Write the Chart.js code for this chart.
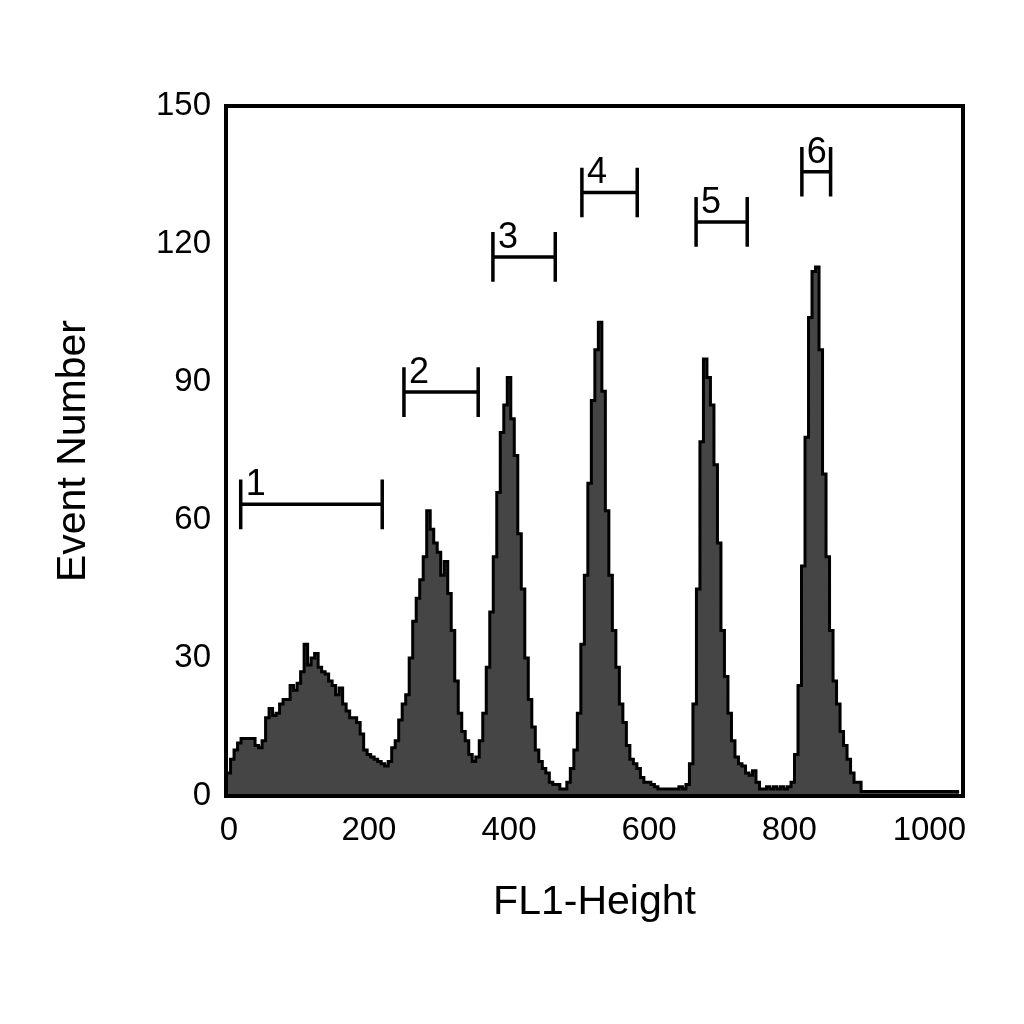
<!DOCTYPE html>
<html lang="en">
<head>
<meta charset="UTF-8">
<title>FL1-Height histogram</title>
<script src="https://cdn.jsdelivr.net/npm/chart.js@4"></script>
<style>
  html, body { margin: 0; padding: 0; background: #fff; }
  canvas { display: block; }
</style>
</head>
<body>
<canvas id="histo" width="1024" height="1024"></canvas>
<script>
// events per 5-channel bin (bins centred on 0, 5, 10 ...)
const BIN = 5;
const counts = [
  5, 8, 10, 11.5, 12.5, 12.5, 12.5, 12.5, 11, 10.5,      // 0-45
  12, 17, 19, 17.5, 18, 20, 21, 21, 24, 23,               // 50-95
  24.5, 27, 33, 28.5, 30, 31, 28, 27, 26.5, 25,           // 100-145
  24, 22, 23.5, 20, 18.5, 17, 17, 16, 13.5, 10,           // 150-195
  9, 8.5, 8, 7.5, 7, 6.5, 7.5, 10.5, 12, 16.5,            // 200-245
  20, 22, 30, 38, 43, 47, 52, 62, 58, 55,                 // 250-295
  53, 48, 51, 44, 36, 25, 18, 14, 12, 9,                  // 300-345
  7.5, 8.5, 12, 18, 28, 40, 52, 66, 79, 85,               // 350-395
  91, 82, 74, 57, 45, 30, 21, 15, 10, 7.5,                // 400-445
  6, 5, 3, 2.5, 2.5, 1.5, 1.5, 3, 6, 10,                  // 450-495
  18, 33, 48, 68, 86, 97, 103, 88, 62, 48,                // 500-545
  36, 28, 20, 16, 11, 8, 7, 6, 4, 3,                      // 550-595
  3, 2.5, 2, 1.5, 1.5, 1.5, 1.5, 1.5, 1.5, 2,             // 600-645
  1.5, 2.5, 7, 20, 45, 77, 95, 91, 85, 72,                // 650-695
  55, 36, 26, 18, 12, 8.5, 7, 6.5, 5, 4.5,                // 700-745
  5.5, 3, 1.5, 1.5, 2, 1.5, 2, 1.5, 2, 1.5,               // 750-795
  2, 3, 9, 24, 50, 78, 104, 114, 115, 97,                 // 800-845
  70, 52, 36, 25, 20, 14, 11, 8, 5, 3,                    // 850-895
  3, 1, 1, 1, 1, 1, 1, 1, 1, 1,                           // 900-945
  1, 1, 1, 1, 1, 1, 1, 1, 1, 1,                           // 950-995
  1, 1, 1, 1, 1, 1, 1, 1, 1, 1                            // 1000-1045
];

const xTicks = [0, 200, 400, 600, 800, 1000];
const yTicks = [0, 30, 60, 90, 120, 150];

// marker gates: start / end channel and height in events
const gateNames = ['1', '2', '3', '4', '5', '6'];
const gateStart = [17, 250, 377, 504, 667, 818];
const gateEnd   = [219, 356, 466, 583, 740, 859];
const gateLevel = [63.4, 87.8, 117.2, 131.2, 124.8, 135.7];
const gateHalf = 5.4;   // half height of the end bars, in events

const FONT = '"Liberation Sans", Arial, Helvetica, sans-serif';

const histPoints = counts.map((c, i) => ({ x: i * BIN - BIN / 2, y: c }));

const gateSets = gateNames.map((n, i) => {
  const s = gateStart[i], e = gateEnd[i], l = gateLevel[i];
  return {
    label: 'M' + n,
    data: [
      { x: s, y: l + gateHalf }, { x: s, y: l - gateHalf }, { x: s, y: l },
      { x: e, y: l }, { x: e, y: l + gateHalf }, { x: e, y: l - gateHalf }
    ],
    borderColor: '#000',
    borderWidth: 3.5,
    borderCapStyle: 'butt',
    pointRadius: 0,
    fill: false,
    tension: 0
  };
});

// frame round the plot and the gate numbers
const extras = {
  id: 'extras',
  afterDatasetsDraw(chart) {
    const { ctx, chartArea: a, scales: { x, y } } = chart;
    ctx.save();
    ctx.font = '36px ' + FONT;
    ctx.fillStyle = '#000';
    ctx.textBaseline = 'alphabetic';
    ctx.textAlign = 'left';
    gateNames.forEach((n, i) => {
      ctx.fillText(n, x.getPixelForValue(gateStart[i]) + 5, y.getPixelForValue(gateLevel[i]) - 9);
    });
    ctx.lineWidth = 4;
    ctx.strokeStyle = '#000';
    ctx.strokeRect(a.left, a.top, a.right - a.left, a.bottom - a.top);
    ctx.restore();
  }
};

const tickFont = { family: FONT, size: 33 };

new Chart(document.getElementById('histo'), {
  type: 'line',
  data: {
    datasets: [{
      label: 'FL1-Height',
      data: histPoints,
      stepped: 'before',
      borderColor: '#000',
      borderWidth: 3,
      backgroundColor: '#454545',
      fill: 'origin',
      pointRadius: 0
    }].concat(gateSets)
  },
  options: {
    responsive: false,
    animation: false,
    devicePixelRatio: 1,
    layout: { padding: { top: 106, right: 61, left: 0, bottom: 0 } },
    plugins: { legend: { display: false }, tooltip: { enabled: false } },
    scales: {
      x: {
        type: 'linear',
        min: -4,
        max: 1048,
        afterBuildTicks: s => { s.ticks = xTicks.map(v => ({ value: v })); },
        afterFit: s => { s.height = 228; },
        grid: { display: false, drawTicks: false },
        border: { display: false },
        ticks: { padding: 15, color: '#000', font: tickFont, callback: v => String(v) },
        title: {
          display: true,
          text: 'FL1-Height',
          color: '#000',
          font: { family: FONT, size: 41 },
          padding: { top: 0, bottom: 97 }
        }
      },
      y: {
        type: 'linear',
        min: 0,
        max: 150,
        afterBuildTicks: s => { s.ticks = yTicks.map(v => ({ value: v })); },
        afterFit: s => { s.width = 226; },
        grid: { display: false, drawTicks: false },
        border: { display: false },
        ticks: { padding: 15, color: '#000', font: tickFont, callback: v => String(v) },
        title: {
          display: true,
          text: 'Event Number',
          color: '#000',
          font: { family: FONT, size: 41 },
          padding: { top: 49, bottom: 0 }
        }
      }
    }
  },
  plugins: [extras]
});
</script>
</body>
</html>
